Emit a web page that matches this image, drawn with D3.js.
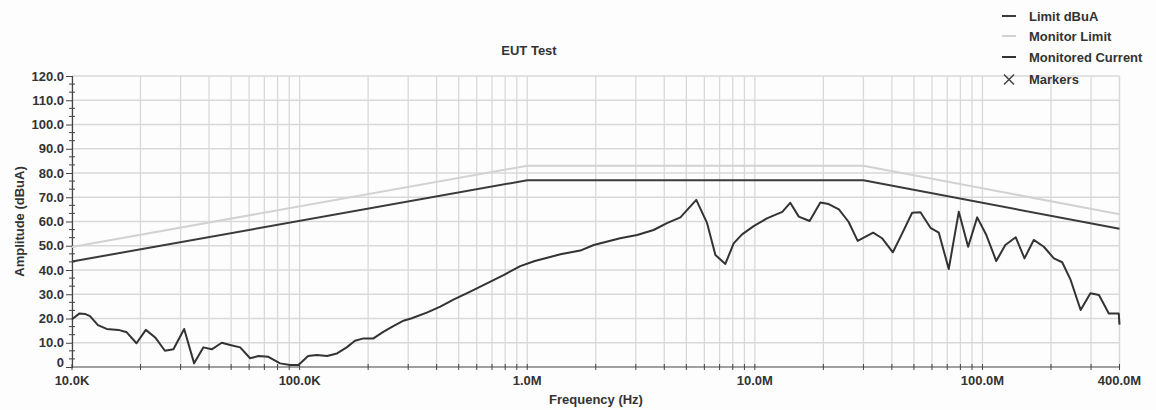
<!DOCTYPE html>
<html><head><meta charset="utf-8">
<script src="https://cdn.jsdelivr.net/npm/d3@7"></script>
<style>
body{margin:0;background:#fff;}
text{font-family:"Liberation Sans",Arial,sans-serif;font-weight:bold;fill:#333;font-size:13px;}
</style>
</head><body><svg id="c" width="1156" height="410"></svg>
<script>
// ---- data ----
const xTickValues = [1e4, 1e5, 1e6, 1e7, 1e8, 4e8];
const xTickLabels = ["10.0K", "100.0K", "1.0M", "10.0M", "100.0M", "400.0M"];
const yTickValues = [0, 10, 20, 30, 40, 50, 60, 70, 80, 90, 100, 110, 120];
const yTickLabels = ["0", "10.0", "20.0", "30.0", "40.0", "50.0", "60.0", "70.0", "80.0", "90.0", "100.0", "110.0", "120.0"];

const limitFreqHz = [1e4, 1e6, 3e7, 4e8];
const limitDbuA = [43.5, 77, 77, 57];
const monitorLimitDbuA = [49.5, 83, 83, 63];

const currentFreqHz = [10000,10800,11400,12000,13000,14200,16000,17400,19200,21100,
  23200,25600,27900,31100,34400,37800,41100,45500,49500,54800,
  60600,65900,72900,82100,90800,98800,109000,119000,132000,146000,
  161000,175000,191000,211000,234000,258000,286000,311000,362000,415000,
  474000,562000,665000,787000,932000,1080000,1400000,1710000,1960000,2560000,
  3040000,3590000,4110000,4710000,5530000,6170000,6710000,7420000,8070000,8790000,
  9880000,11300000,13200000,14300000,15600000,17400000,19400000,21100000,23400000,25800000,
  28300000,33100000,36200000,40400000,44400000,49100000,53400000,59100000,64300000,71100000,
  78700000,86500000,94800000,104000000,115000000,126000000,140000000,153000000,168000000,186000000,
  206000000,224000000,244000000,270000000,298000000,325000000,359000000,397000000,400000000];
const currentDbuA = [19.7,22.1,21.9,21.0,17.3,15.7,15.3,14.3,9.8,15.3,
  12.2,6.7,7.3,15.7,1.5,8.1,7.3,10.0,9.1,8.1,
  3.6,4.5,4.2,1.5,0.8,0.8,4.5,4.9,4.5,5.6,
  8.1,10.8,11.8,11.8,14.6,16.9,19.1,20.1,22.4,24.9,
  27.8,31.1,34.5,37.9,41.6,43.7,46.5,48.0,50.3,53.1,
  54.4,56.5,59.3,61.7,68.9,59.3,46.2,42.5,51.0,54.7,
  58.1,61.3,64.0,67.7,62.0,60.2,67.8,67.2,65.0,59.9,
  52.0,55.4,53.1,47.3,55.1,63.6,63.8,57.4,55.4,40.4,
  64.0,49.6,61.7,54.4,43.7,50.3,53.5,44.8,52.4,49.6,
  44.8,43.2,35.9,23.5,30.4,29.7,22.1,22.1,17.5];

const legendLabels = ["Limit dBuA", "Monitor Limit", "Monitored Current", "Markers"];
const legendColors = ["#3a3a3a", "#d2d2d2", "#333333", "#444444"];

// ---- chart ----
const svg = d3.select("#c");
const L = 72, R = 1119.5, T = 76, B = 367;
const x = d3.scaleLog().domain([1e4, 4e8]).range([L, R]);
const y = d3.scaleLinear().domain([0, 120]).range([B, T]);

svg.append("rect").attr("width", 1156).attr("height", 410).attr("fill", "#fdfdfd");

// minor log positions
const minorX = [];
for (let d = 1e4; d <= 1e8; d *= 10) {
  for (let k = 1; k <= 9; k++) { const v = k * d; if (v <= 4e8) minorX.push(v); }
}
minorX.push(4e8);

const grid = svg.append("g").attr("stroke", "#d9d9d9").attr("stroke-width", 1.3);
grid.selectAll("line.v").data(minorX).join("line")
  .attr("x1", d => x(d)).attr("x2", d => x(d)).attr("y1", T).attr("y2", B);
grid.selectAll("line.h").data(yTickValues.filter(v => v > 0)).join("line")
  .attr("x1", L).attr("x2", R).attr("y1", d => y(d)).attr("y2", d => y(d));

// y axis
const yAxis = d3.axisLeft(y).tickValues(yTickValues)
  .tickFormat((d, i) => yTickLabels[i]).tickSize(6).tickPadding(2);
const gy = svg.append("g").attr("transform", `translate(${L},0)`).call(yAxis);
gy.select(".domain").attr("stroke", "#444").attr("stroke-width", 1.2);
gy.selectAll(".tick line").attr("stroke", "#444");
gy.selectAll("text").style("font-size", "13px").attr("fill", "#333");
gy.selectAll(".tick text").filter(d => d === 0).attr("dy", "-0.05em");
// y minor ticks
const yMinor = [];
for (let v = 0; v < 120; v += 10) { yMinor.push(v + 10 / 3, v + 20 / 3); }
svg.append("g").attr("stroke", "#444").selectAll("line").data(yMinor).join("line")
  .attr("x1", L - 3).attr("x2", L + 3).attr("y1", d => y(d)).attr("y2", d => y(d));

// x axis
svg.append("line").attr("x1", L).attr("x2", R).attr("y1", B).attr("y2", B)
  .attr("stroke", "#444").attr("stroke-width", 1.2);
svg.append("g").attr("stroke", "#444").selectAll("line").data(minorX).join("line")
  .attr("x1", d => x(d)).attr("x2", d => x(d)).attr("y1", B - 3).attr("y2", B + 3);
svg.append("g").selectAll("text").data(xTickValues).join("text")
  .attr("x", d => x(d)).attr("y", B + 18).attr("text-anchor", "middle")
  .text((d, i) => xTickLabels[i]);

// titles
svg.append("text").attr("x", 529).attr("y", 55).attr("text-anchor", "middle").text("EUT Test");
svg.append("text").attr("x", 596).attr("y", 404).attr("text-anchor", "middle").text("Frequency (Hz)");
svg.append("text").attr("transform", `translate(24,${(T + B) / 2}) rotate(-90)`)
  .attr("text-anchor", "middle").text("Amplitude (dBuA)");

// lines
const line = d3.line().x(d => x(d[0])).y(d => y(d[1]));
svg.append("path").datum(limitFreqHz.map((f, i) => [f, monitorLimitDbuA[i]]))
  .attr("d", line).attr("fill", "none").attr("stroke", legendColors[1]).attr("stroke-width", 2);
svg.append("path").datum(limitFreqHz.map((f, i) => [f, limitDbuA[i]]))
  .attr("d", line).attr("fill", "none").attr("stroke", legendColors[0]).attr("stroke-width", 2);
svg.append("path").datum(currentFreqHz.map((f, i) => [f, currentDbuA[i]]))
  .attr("d", line).attr("fill", "none").attr("stroke", legendColors[2]).attr("stroke-width", 2)
  .attr("stroke-linejoin", "round");

// legend
const legY = [16, 36, 57, 79.5];
const leg = svg.append("g");
legendLabels.forEach((lab, i) => {
  if (i < 3) {
    leg.append("line").attr("x1", 1002).attr("x2", 1016).attr("y1", legY[i]).attr("y2", legY[i])
      .attr("stroke", legendColors[i]).attr("stroke-width", 2);
  } else {
    leg.append("path").attr("d", `M1004,${legY[i]-5}L1014,${legY[i]+5}M1014,${legY[i]-5}L1004,${legY[i]+5}`)
      .attr("stroke", legendColors[i]).attr("stroke-width", 1.5);
  }
  leg.append("text").attr("x", 1029).attr("y", legY[i] + 4.5).text(lab);
});
</script>
</body></html>
